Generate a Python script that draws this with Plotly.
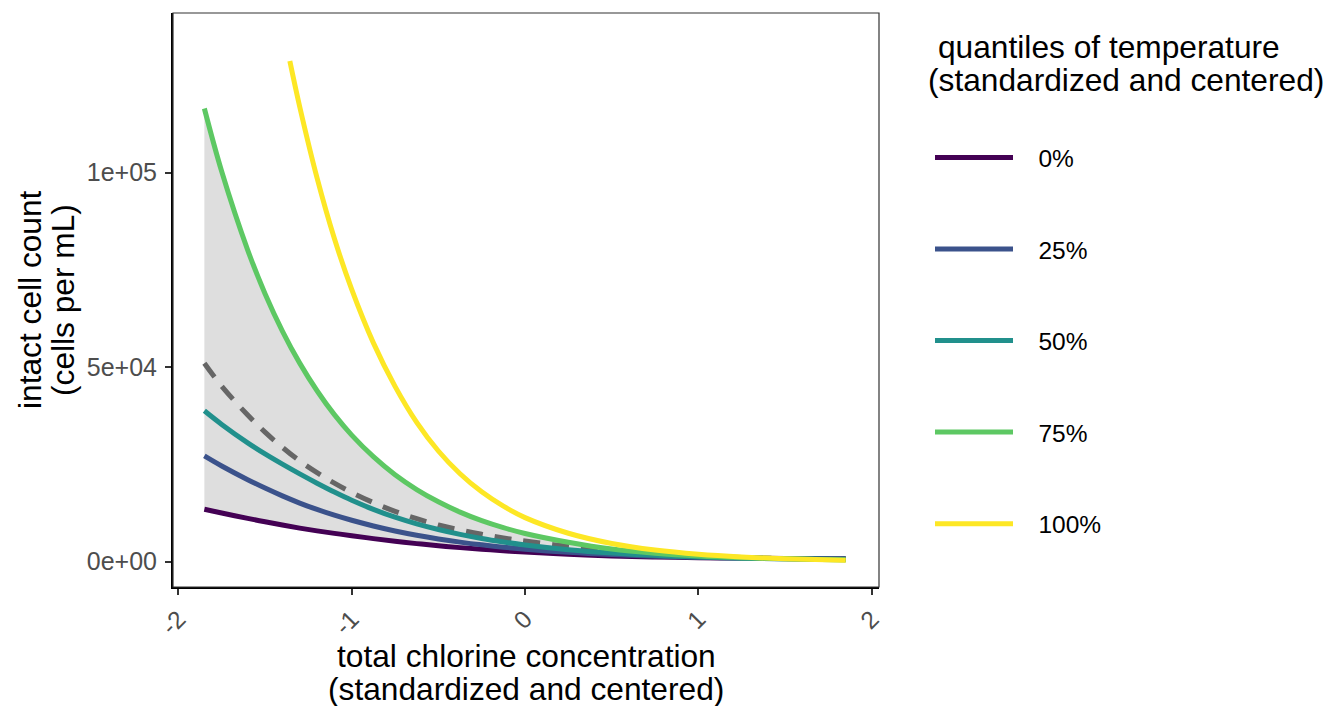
import plotly.graph_objects as go

# ---------------- data ----------------
x_grid = [-1.85, -1.75, -1.6, -1.5, -1.4, -1.3, -1.2, -1.1, -1.0, -0.875, -0.75, -0.625,
          -0.5, -0.375, -0.25, -0.125, 0.0, 0.25, 0.5, 0.75, 1.0, 1.25, 1.5, 1.85]

q0 = [13500, 12520, 11140, 10260, 9430, 8640, 7930, 7290, 6690, 5940, 5265, 4650,
      4110, 3620, 3200, 2820, 2490, 1915, 1490, 1220, 1050, 930, 840, 780]
q25 = [27200, 24610, 21090, 18930, 16920, 15080, 13430, 11960, 10650, 9190, 7910, 6810,
       5860, 5040, 4340, 3740, 3220, 2410, 1830, 1430, 1140, 930, 765, 680]
q50 = [38800, 35300, 30560, 27700, 25070, 22570, 20180, 17900, 15790, 13460, 11440, 9725,
       8270, 7030, 5970, 5080, 4310, 3100, 2250, 1640, 1200, 910, 730, 620]
q75 = [116500, 100300, 80100, 68900, 59300, 51050, 43950, 37800, 32550, 27000, 22350, 18550,
       15400, 12750, 10550, 8750, 7250, 4990, 3250, 2200, 1500, 1050, 740, 470]

x_q100 = [-1.357, -1.3, -1.2, -1.1, -1.0, -0.875, -0.75, -0.625, -0.5, -0.375, -0.25, -0.125,
          0.0, 0.25, 0.5, 0.75, 1.0, 1.25, 1.5, 1.85]
q100 = [128700, 116950, 98670, 83080, 70000, 56250, 45080, 35820, 28460, 22610, 17960, 14270,
        11340, 7320, 4690, 3005, 1925, 1230, 790, 380]

mean_curve = [51000, 45100, 37700, 33300, 29400, 25900, 22900, 20200, 17800, 15200, 12950, 11050,
              9450, 8150, 7050, 6100, 5300, 3950, 2950, 2150, 1500, 1080, 820, 640]
ribbon_low = [13000, 12050, 10750, 9900, 9100, 8350, 7650, 7050, 6470, 5750, 5100, 4500,
              3980, 3510, 3100, 2730, 2410, 1850, 1440, 1180, 1015, 900, 815, 760]
ribbon_high = [116500, 99000, 78700, 67700, 58300, 50200, 43200, 37200, 32000, 26550, 22000, 18250,
               15150, 12550, 10400, 8620, 7150, 4900, 3200, 2170, 1480, 1020, 700, 440]

series_names = ["0%", "25%", "50%", "75%", "100%"]
series_colors = ["#440154", "#3B528B", "#21908C", "#5DC863", "#FDE725"]

x_tickvals = [-2, -1, 0, 1, 2]
x_ticktext = ["-2", "-1", "0", "1", "2"]
y_tickvals = [0, 50000, 100000]
y_ticktext = ["0e+00", "5e+04", "1e+05"]

FONT = "Liberation Sans, Arial, sans-serif"
NB = "\u00a0"
LW = 5

# ---------------- figure ----------------
fig = go.Figure()

# ribbon
fig.add_trace(go.Scatter(x=x_grid, y=ribbon_low, mode="lines",
                         line=dict(width=0, shape="spline"),
                         showlegend=False, hoverinfo="skip"))
fig.add_trace(go.Scatter(x=x_grid, y=ribbon_high, mode="lines",
                         line=dict(width=0, shape="spline"),
                         fill="tonexty", fillcolor="rgb(222,222,222)", showlegend=False, hoverinfo="skip"))
# dashed mean
fig.add_trace(go.Scatter(x=x_grid, y=mean_curve, mode="lines",
                         line=dict(color="#666666", width=LW, dash="17px,12px", shape="spline"),
                         showlegend=False))

series_x = [x_grid, x_grid, x_grid, x_grid, x_q100]
series_y = [q0, q25, q50, q75, q100]
for name, col, xs, ys in zip(series_names, series_colors, series_x, series_y):
    fig.add_trace(go.Scatter(x=xs, y=ys, mode="lines", name=NB * 3 + name, legendgroup=name,
                             line=dict(color=col, width=LW, shape="spline")))

L, R, T, B = 173, 452, 13, 119
W, H = 1331, 706
pw, ph = W - L - R, H - T - B


def px_x(p):
    return (p - L) / pw


def px_y(p):
    return (H - B - p) / ph


fig.update_layout(
    width=W, height=H,
    margin=dict(l=L, r=R, t=T, b=B, pad=0),
    paper_bgcolor="white", plot_bgcolor="white",
    font=dict(family=FONT, color="black"),
    legend=dict(x=px_x(930), y=px_y(135), xanchor="left", yanchor="top",
                font=dict(size=24.5, family=FONT, color="black"),
                itemwidth=78, tracegroupgap=56.7, bgcolor="rgba(0,0,0,0)"),
    showlegend=True,
)

fig.update_xaxes(range=[-2.031, 2.042], showgrid=False, zeroline=False,
                 showline=True, linecolor="black", linewidth=2,
                 ticks="outside", ticklen=6, tickwidth=2, tickcolor="#333333",
                 tickvals=x_tickvals, ticktext=x_ticktext, tickangle=-45,
                 tickfont=dict(size=24.5, color="#4d4d4d", family=FONT))
fig.update_yaxes(range=[-6500, 141050], showgrid=False, zeroline=False,
                 showline=True, linecolor="black", linewidth=2,
                 ticks="outside", ticklen=6, tickwidth=2, tickcolor="#333333",
                 tickvals=y_tickvals, ticktext=y_ticktext, ticklabelstandoff=3,
                 tickfont=dict(size=25, color="#4d4d4d", family=FONT))

# panel border (top/right thin)
fig.add_shape(type="rect", xref="paper", yref="paper", x0=0, x1=1, y0=0, y1=1,
              line=dict(color="#333333", width=1.2), layer="above")

TS = 31.7
ann = []
ann.append(dict(text="total chlorine concentration", x=0.5, y=px_y(656)))
ann.append(dict(text="(standardized and centered)", x=0.5, y=px_y(689)))
ann.append(dict(text="intact cell count", x=px_x(30), y=0.5, textangle=-90))
ann.append(dict(text="(cells per mL)", x=px_x(63), y=0.5, textangle=-90))
for a in ann:
    a.update(xref="paper", yref="paper", showarrow=False, xanchor="center", yanchor="middle",
             font=dict(size=TS, family=FONT, color="black"))
ann.append(dict(text="quantiles of temperature", x=px_x(936), y=px_y(47), xref="paper", yref="paper",
                showarrow=False, xanchor="left", yanchor="middle",
                font=dict(size=TS, family=FONT, color="black")))
ann.append(dict(text="(standardized and centered)", x=px_x(926), y=px_y(80), xref="paper", yref="paper",
                showarrow=False, xanchor="left", yanchor="middle",
                font=dict(size=TS, family=FONT, color="black")))
fig.update_layout(annotations=ann)

fig.write_html("out.html")
